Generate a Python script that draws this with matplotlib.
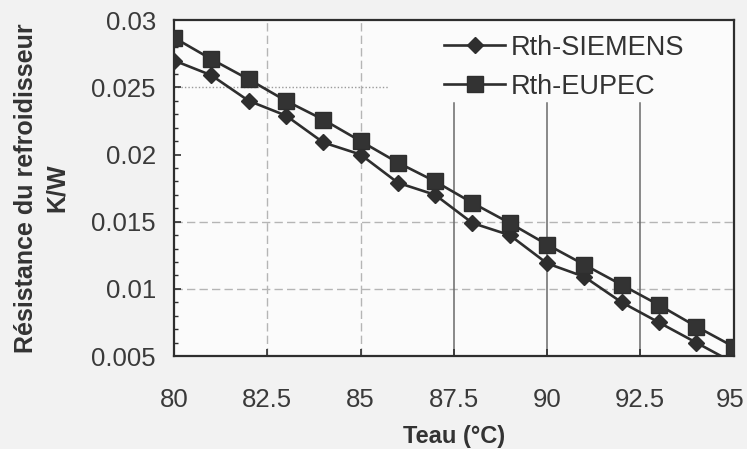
import matplotlib
matplotlib.use("Agg")
import matplotlib.pyplot as plt
from matplotlib.ticker import MultipleLocator
from matplotlib.transforms import ScaledTranslation

plt.rcParams['font.family'] = ['Liberation Sans', 'DejaVu Sans']

teau = [80, 81, 82, 83, 84, 85, 86, 87, 88, 89, 90, 91, 92, 93, 94, 95]
rth_siemens = [0.0270, 0.0259, 0.0240, 0.0229, 0.0209, 0.0200, 0.0179, 0.0170,
               0.0149, 0.0140, 0.0119, 0.0109, 0.0090, 0.0075, 0.0060, 0.0045]
rth_eupec = [0.0287, 0.0271, 0.0256, 0.0240, 0.0226, 0.0210, 0.0194, 0.0180,
             0.0164, 0.0149, 0.0133, 0.0118, 0.0103, 0.0088, 0.0072, 0.0057]
xticks = [80, 82.5, 85, 87.5, 90, 92.5, 95]
yticks = [0.005, 0.01, 0.015, 0.02, 0.025, 0.03]
ytick_labels = ["0.005", "0.01", "0.015", "0.02", "0.025", "0.03"]

fig = plt.figure(figsize=(7.47, 4.49), dpi=100, facecolor='#f2f2f2')
ax = fig.add_axes([0.233, 0.207, 0.749, 0.748])
ax.set_facecolor('#fbfbfb')

ink = '#2e2e2e'
# partial grid as in the reference scan
ax.axhline(0.025, xmin=0, xmax=0.385, color='#9a9a9a', lw=1, ls=(0, (1, 1.5)), zorder=1)
for yv in (0.015, 0.01):
    ax.axhline(yv, color='#b5b5b5', lw=1, ls=(0, (6, 3)), zorder=1)
for xv in (82.5, 85):
    ax.axvline(xv, color='#b5b5b5', lw=1, ls=(0, (6, 3)), zorder=1)
for xv in (87.5, 90, 92.5):
    ax.axvline(xv, ymax=0.753, color='#6a6a6a', lw=1.1, zorder=1)

ax.plot(teau, rth_siemens, color=ink, lw=1.9, marker='D', markersize=8.5,
        markerfacecolor=ink, markeredgecolor=ink, label='Rth-SIEMENS', zorder=3)
ax.plot(teau, rth_eupec, color=ink, lw=1.9, marker='s', markersize=11,
        markerfacecolor='#333333', markeredgecolor=ink, label='Rth-EUPEC', zorder=3)

ax.set_xlim(80, 95)
ax.set_ylim(0.005, 0.03)
ax.set_xticks(xticks)
ax.set_xticklabels([f"{v:g}" for v in xticks])
ax.set_yticks(yticks)
ax.set_yticklabels(ytick_labels)
ax.yaxis.set_minor_locator(MultipleLocator(0.001))
ax.tick_params(axis='both', which='major', direction='in', length=5, width=1.2,
               colors=ink, labelsize=18.5, labelcolor='#3a3a3a')
ax.tick_params(axis='y', which='minor', direction='in', length=3, width=1, colors=ink)
ax.tick_params(axis='x', pad=23)
ax.tick_params(axis='y', pad=13)
for s in ax.spines.values():
    s.set_color(ink)
    s.set_linewidth(1.6)

# keep the last x tick label inside the picture
last = ax.get_xticklabels()[-1]
last.set_transform(last.get_transform() + ScaledTranslation(-3 / 100, 0, fig.dpi_scale_trans))

ax.set_xlabel('Teau (°C)', fontsize=17, fontweight='bold', color='#333333', labelpad=9)
ax.set_ylabel('Résistance du refroidisseur\nK/W', fontsize=18, fontweight='bold',
              color='#333333', labelpad=16, linespacing=1.35)

leg = ax.legend(loc='upper left', bbox_to_anchor=(0.483, 0.957), frameon=False,
                fontsize=19.5, handlelength=2.25, handletextpad=0.2, borderpad=0,
                labelspacing=0.48, borderaxespad=0)
for t in leg.get_texts():
    t.set_color('#333333')

fig.savefig('out.png', dpi=100, facecolor=fig.get_facecolor())
